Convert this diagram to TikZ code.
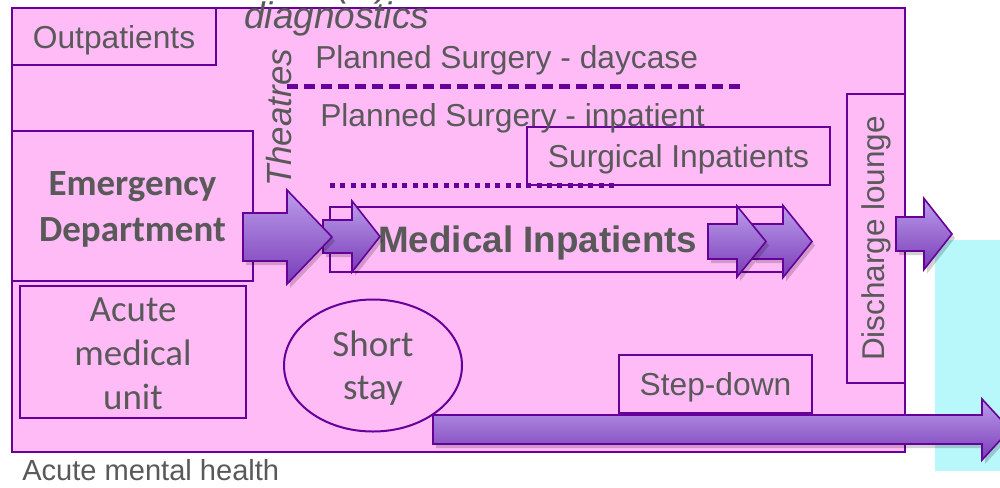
\documentclass[tikz,border=0pt]{standalone}
\usepackage{fontspec}
\setmainfont{Liberation Sans}
\newfontfamily\calfont{Carlito}
\usetikzlibrary{shapes.geometric}
\definecolor{pinkbg}{HTML}{FFBBF6}
\definecolor{bord}{HTML}{660099}
\definecolor{cyanbg}{HTML}{B8F7FA}
\definecolor{txtgray}{HTML}{595959}
\definecolor{arrtop}{HTML}{BB9DEB}
\definecolor{arrbot}{HTML}{7A3CB8}
\newcommand\fs[2]{\fontsize{#1}{#2}\selectfont}
\newcommand\blockarrow[6]{%
  \fill[black,opacity=0.18,shift={(3,4)}] (#1,{#4-#5}) -- (#2,{#4-#5}) -- (#2,{#4-#6}) -- (#3,#4) -- (#2,{#4+#6}) -- (#2,{#4+#5}) -- (#1,{#4+#5}) -- cycle;
  \draw[arr] (#1,{#4-#5}) -- (#2,{#4-#5}) -- (#2,{#4-#6}) -- (#3,#4) -- (#2,{#4+#6}) -- (#2,{#4+#5}) -- (#1,{#4+#5}) -- cycle;}
\begin{document}
\begin{tikzpicture}[x=0.75pt,y=-0.75pt,
  box/.style={draw=bord, line width=1.5pt, fill=pinkbg, inner sep=0pt, text=txtgray},
  onel/.style={text depth=0pt},
  txt/.style={text=txtgray, inner sep=0pt},
  arr/.style={draw=bord, line width=1.2pt, top color=arrtop, bottom color=arrbot, line join=miter},
]
\useasboundingbox (0,0) rectangle (1000,487);
% community (cyan) area
\fill[cyanbg] (935,240) rectangle (1005,471);
% cut-off text above
\node[txt, font=\itshape\fs{27.7}{30}, anchor=base west] (paren) at (337,-4) {(\hspace{21pt})};
% acute hospital
\node[box, minimum width=669.75pt, minimum height=333pt] (acute) at (458.5,230) {};
\node[box, onel, minimum width=153pt, minimum height=42.75pt, font=\fs{23.8}{28}] (outp) at (114,36.5) {Outpatients};
\node[box, minimum width=180.75pt, minimum height=112.5pt] (ed) at (132.5,206) {};
\node[box, minimum width=339.75pt, minimum height=48.75pt] (medbox) at (556.5,239.5) {};
\node[box, minimum width=169.5pt, minimum height=99pt] (amu) at (133,352) {};
\node[box, ellipse, minimum width=133.5pt, minimum height=99pt] (short) at (373,365.5) {};
\node[box, onel, minimum width=144.75pt, minimum height=43.5pt, font=\fs{23.8}{28}] (step) at (715.5,384) {Step-down};
\node[box, rotate=90, minimum width=216.75pt, minimum height=43.5pt, font=\fs{23.6}{28}] (dis) at (876,238.5) {Discharge lounge};
\node[box, onel, minimum width=227.25pt, minimum height=43.5pt, font=\fs{23.8}{28}] (surg) at (678.5,156) {Surgical Inpatients};
% texts
\node[txt, align=center, font=\calfont\bfseries\fs{27.7}{35}] (edtxt) at ([yshift=-2.5pt]ed.center) {Emergency\\Department};
\node[txt, align=center, font=\calfont\fs{27.7}{33}] (amutxt) at ([yshift=-1.5pt]amu.center) {Acute\\medical\\unit};
\node[txt, align=center, font=\calfont\fs{27.7}{32.5}] (shorttxt) at ([yshift=-1.8pt]short.center) {Short\\stay};
\node[txt, font=\itshape\fs{27.7}{30}, anchor=base west] (diag) at (244,28) {diagnostics};
\node[txt, font=\itshape\fs{26.2}{30}, rotate=90] (theatres) at (279,118) {Theatres};
\node[txt, font=\fs{23.8}{28}, anchor=base west] (psd) at (315,68) {Planned Surgery - daycase};
\node[txt, font=\fs{23.8}{28}, anchor=base west] (psi) at (320,126) {Planned Surgery - inpatient};
\node[txt, font=\bfseries\fs{27.6}{30}, anchor=base west] (mitxt) at (378,252) {Medical Inpatients};
\node[txt, font=\fs{21.8}{26}, anchor=base west] (amh) at (22,480) {Acute mental health};
% dividing lines
\coordinate (dashA) at (287,86);
\coordinate (dashB) at (742,86);
\coordinate (dotA) at (330,185);
\coordinate (dotB) at (618,185);
\draw[black, opacity=0.12, line width=3.75pt, dash pattern=on 8.25pt off 4.5pt, shift={(2,5)}] (dashA) -- (dashB);
\draw[bord, line width=3.75pt, dash pattern=on 8.25pt off 4.5pt] (dashA) -- (dashB);
\draw[black, opacity=0.12, line width=3.75pt, dash pattern=on 3.75pt off 4pt, shift={(2,5)}] (dotA) -- (dotB);
\draw[bord, line width=3.75pt, dash pattern=on 3.75pt off 4pt] (dotA) -- (dotB);
% arrows
\blockarrow{323}{352}{380}{236.5}{16.5}{35.5}
\blockarrow{243}{287}{332}{237}{24}{47}
\blockarrow{753}{783}{812}{241.5}{17.5}{36}
\blockarrow{708}{737}{766}{241.5}{17.5}{35.5}
\blockarrow{896}{924}{952}{234}{17}{35.5}
\blockarrow{433}{982}{1010}{429.5}{14.5}{30.5}
\end{tikzpicture}
\end{document}
